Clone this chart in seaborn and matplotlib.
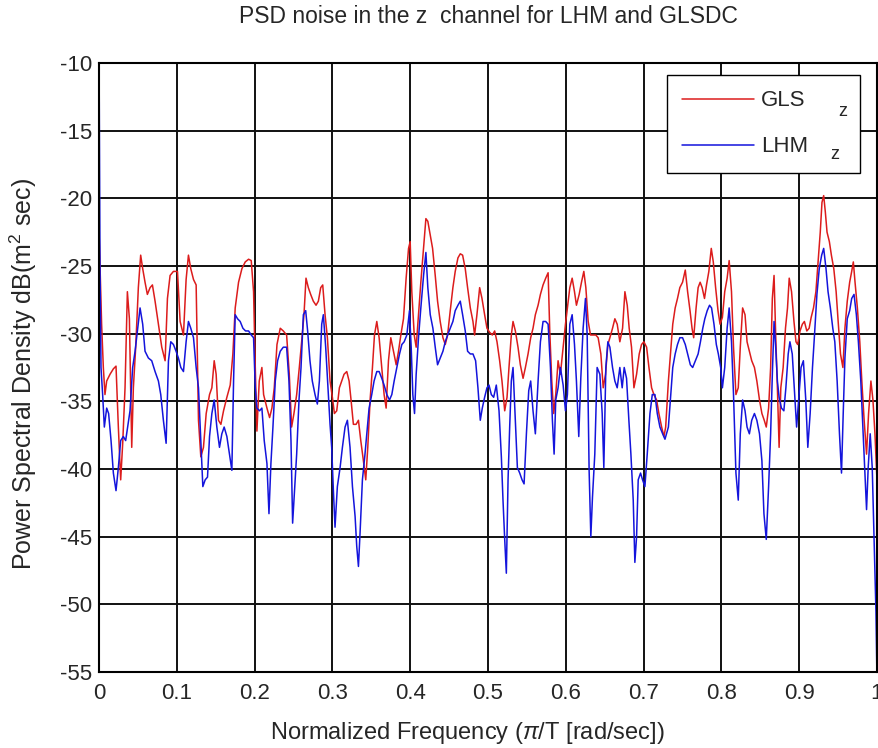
import matplotlib
matplotlib.use("Agg")
import matplotlib.pyplot as plt
import seaborn as sns
import numpy as np

# valores (frecuencia normalizada, dB)
gls_freq = [
    0.0000, 0.0034, 0.0056, 0.0077, 0.0099, 0.0142, 0.0185, 0.0219, 0.0249, 0.0279,
    0.0305, 0.0335, 0.0365, 0.0391, 0.0421, 0.0442, 0.0472, 0.0506, 0.0536, 0.0562,
    0.0592, 0.0622, 0.0657, 0.0687, 0.0721, 0.0764, 0.0807, 0.0850, 0.0880, 0.0914,
    0.0957, 0.1009, 0.1043, 0.1086, 0.1120, 0.1150, 0.1180, 0.1215, 0.1249, 0.1279,
    0.1309, 0.1343, 0.1378, 0.1421, 0.1451, 0.1481, 0.1506, 0.1536, 0.1567, 0.1601,
    0.1644, 0.1687, 0.1721, 0.1751, 0.1794, 0.1837, 0.1880, 0.1923, 0.1957, 0.1987,
    0.2009, 0.2030, 0.2060, 0.2094, 0.2116, 0.2159, 0.2193, 0.2223, 0.2253, 0.2288,
    0.2330, 0.2369, 0.2412, 0.2446, 0.2476, 0.2506, 0.2541, 0.2575, 0.2605, 0.2635,
    0.2661, 0.2691, 0.2721, 0.2755, 0.2790, 0.2820, 0.2850, 0.2876, 0.2906, 0.2936,
    0.2970, 0.3000, 0.3026, 0.3056, 0.3090, 0.3120, 0.3150, 0.3185, 0.3215, 0.3240,
    0.3270, 0.3305, 0.3335, 0.3365, 0.3399, 0.3429, 0.3455, 0.3485, 0.3515, 0.3541,
    0.3571, 0.3601, 0.3635, 0.3665, 0.3691, 0.3721, 0.3751, 0.3785, 0.3820, 0.3850,
    0.3880, 0.3914, 0.3948, 0.3979, 0.4000, 0.4021, 0.4052, 0.4077, 0.4107, 0.4137,
    0.4172, 0.4202, 0.4227, 0.4258, 0.4288, 0.4322, 0.4352, 0.4386, 0.4421, 0.4451,
    0.4481, 0.4515, 0.4549, 0.4579, 0.4614, 0.4644, 0.4674, 0.4708, 0.4738, 0.4773,
    0.4807, 0.4828, 0.4858, 0.4893, 0.4923, 0.4957, 0.4987, 0.5021, 0.5056, 0.5086,
    0.5116, 0.5150, 0.5180, 0.5215, 0.5245, 0.5270, 0.5300, 0.5322, 0.5352, 0.5386,
    0.5416, 0.5451, 0.5481, 0.5515, 0.5549, 0.5579, 0.5609, 0.5644, 0.5674, 0.5708,
    0.5742, 0.5773, 0.5794, 0.5820, 0.5845, 0.5871, 0.5901, 0.5931, 0.5966, 0.5996,
    0.6021, 0.6052, 0.6082, 0.6112, 0.6137, 0.6172, 0.6202, 0.6232, 0.6258, 0.6288,
    0.6318, 0.6352, 0.6386, 0.6416, 0.6451, 0.6481, 0.6511, 0.6541, 0.6567, 0.6601,
    0.6631, 0.6661, 0.6695, 0.6730, 0.6760, 0.6790, 0.6815, 0.6845, 0.6876, 0.6910,
    0.6944, 0.6974, 0.7004, 0.7039, 0.7069, 0.7103, 0.7133, 0.7167, 0.7197, 0.7232,
    0.7262, 0.7284, 0.7319, 0.7349, 0.7375, 0.7406, 0.7436, 0.7466, 0.7501, 0.7536,
    0.7566, 0.7597, 0.7623, 0.7644, 0.7675, 0.7701, 0.7727, 0.7753, 0.7783, 0.7809,
    0.7839, 0.7870, 0.7896, 0.7926, 0.7957, 0.7983, 0.8013, 0.8043, 0.8074, 0.8100,
    0.8130, 0.8156, 0.8187, 0.8217, 0.8243, 0.8273, 0.8304, 0.8330, 0.8360, 0.8390,
    0.8425, 0.8456, 0.8490, 0.8521, 0.8551, 0.8577, 0.8607, 0.8633, 0.8655, 0.8677,
    0.8698, 0.8720, 0.8742, 0.8764, 0.8794, 0.8824, 0.8850, 0.8872, 0.8902, 0.8933,
    0.8959, 0.8980, 0.9011, 0.9041, 0.9067, 0.9098, 0.9128, 0.9154, 0.9184, 0.9215,
    0.9241, 0.9271, 0.9293, 0.9315, 0.9336, 0.9358, 0.9388, 0.9414, 0.9445, 0.9475,
    0.9501, 0.9531, 0.9562, 0.9588, 0.9618, 0.9649, 0.9675, 0.9696, 0.9718, 0.9748,
    0.9779, 0.9805, 0.9835, 0.9866, 0.9892, 0.9922, 0.9948, 0.9974, 1.0000,
]
gls_db = [
    -22.2, -29.3, -32.5, -34.5, -33.5, -33.0, -32.6, -32.4, -36.9, -40.8,
    -38.1, -34.0, -26.9, -28.9, -38.4, -34.0, -31.0, -26.6, -24.2, -25.2,
    -26.2, -27.1, -26.6, -26.4, -27.6, -29.3, -31.0, -32.0, -27.4, -25.7,
    -25.4, -25.4, -29.1, -30.1, -26.0, -24.2, -25.2, -26.0, -26.4, -36.4,
    -39.1, -38.4, -35.9, -34.5, -34.0, -32.0, -33.0, -36.4, -36.7, -35.7,
    -34.7, -33.8, -31.5, -28.1, -26.2, -25.2, -24.7, -24.5, -24.6, -26.9,
    -32.5, -37.2, -33.5, -32.5, -34.5, -35.5, -36.2, -35.5, -34.0, -30.8,
    -29.6, -29.8, -30.1, -33.0, -36.9, -35.9, -34.5, -32.5, -30.6, -28.6,
    -25.9, -26.6, -27.1, -27.6, -27.9, -27.6, -26.6, -26.4, -28.6, -30.3,
    -33.5, -34.7, -35.9, -35.7, -34.0, -33.5, -33.0, -32.8, -33.5, -34.9,
    -36.7, -36.7, -36.4, -37.9, -39.4, -40.8, -38.4, -34.9, -32.5, -30.1,
    -29.1, -30.3, -32.5, -34.5, -35.5, -32.0, -30.3, -31.3, -32.3, -31.3,
    -30.1, -28.9, -25.9, -23.7, -23.2, -26.9, -30.1, -31.0, -28.6, -26.2,
    -23.7, -21.5, -21.7, -22.7, -23.7, -25.7, -27.6, -29.1, -30.3, -30.8,
    -30.1, -28.3, -26.6, -25.4, -24.4, -24.1, -24.2, -25.2, -26.6, -28.1,
    -29.1, -30.1, -28.6, -26.6, -27.4, -28.6, -29.6, -29.9, -30.1, -29.8,
    -30.6, -32.0, -33.5, -35.7, -34.7, -32.5, -30.1, -29.1, -29.8, -31.0,
    -32.3, -33.3, -32.5, -31.5, -30.3, -29.6, -28.6, -27.9, -27.1, -26.4,
    -25.9, -25.5, -29.8, -33.5, -35.9, -34.5, -32.0, -33.0, -31.0, -29.3,
    -28.1, -26.6, -25.9, -26.9, -27.9, -27.1, -26.2, -25.4, -26.6, -29.1,
    -30.1, -30.1, -30.1, -30.3, -31.5, -34.0, -33.0, -30.8, -30.3, -29.6,
    -28.9, -29.3, -30.6, -29.6, -26.9, -27.9, -29.6, -31.0, -34.0, -33.0,
    -31.5, -30.8, -30.6, -31.0, -32.5, -34.0, -34.5, -34.9, -35.9, -36.9,
    -37.6, -36.9, -33.5, -31.3, -29.3, -28.1, -27.4, -26.6, -26.2, -25.3,
    -26.9, -28.3, -29.6, -30.3, -28.1, -26.6, -26.2, -26.6, -27.4, -26.4,
    -25.4, -23.7, -24.7, -26.6, -28.3, -29.3, -28.8, -26.9, -25.9, -24.6,
    -26.9, -31.0, -34.5, -34.0, -31.0, -28.1, -28.6, -30.6, -31.3, -32.0,
    -32.5, -33.5, -34.9, -35.9, -36.4, -36.9, -35.5, -32.5, -27.4, -25.7,
    -30.1, -34.0, -38.4, -34.0, -32.5, -29.6, -28.1, -25.9, -26.9, -29.1,
    -30.6, -30.8, -29.8, -29.3, -29.1, -29.8, -29.6, -28.8, -28.1, -26.9,
    -24.9, -22.5, -20.3, -19.8, -21.0, -22.5, -23.2, -24.2, -25.2, -26.9,
    -29.1, -31.5, -32.5, -29.6, -27.6, -26.2, -25.4, -24.7, -26.2, -28.1,
    -30.6, -33.5, -36.4, -38.9, -35.9, -33.5, -34.9, -37.4, -40.8,
]

lhm_freq = [
    0.0000, 0.0013, 0.0026, 0.0047, 0.0069, 0.0099, 0.0124, 0.0155, 0.0185, 0.0219,
    0.0249, 0.0279, 0.0313, 0.0343, 0.0369, 0.0399, 0.0433, 0.0464, 0.0494, 0.0528,
    0.0562, 0.0592, 0.0635, 0.0678, 0.0721, 0.0764, 0.0794, 0.0828, 0.0863, 0.0893,
    0.0923, 0.0957, 0.0991, 0.1021, 0.1052, 0.1086, 0.1120, 0.1150, 0.1180, 0.1215,
    0.1249, 0.1279, 0.1309, 0.1335, 0.1365, 0.1395, 0.1421, 0.1451, 0.1481, 0.1515,
    0.1549, 0.1579, 0.1609, 0.1644, 0.1678, 0.1708, 0.1730, 0.1751, 0.1781, 0.1815,
    0.1850, 0.1884, 0.1923, 0.1957, 0.1987, 0.2009, 0.2030, 0.2064, 0.2094, 0.2124,
    0.2159, 0.2185, 0.2210, 0.2236, 0.2266, 0.2296, 0.2330, 0.2369, 0.2412, 0.2442,
    0.2468, 0.2489, 0.2511, 0.2541, 0.2571, 0.2597, 0.2627, 0.2657, 0.2682, 0.2712,
    0.2742, 0.2777, 0.2807, 0.2833, 0.2863, 0.2884, 0.2914, 0.2944, 0.2970, 0.2991,
    0.3013, 0.3034, 0.3064, 0.3099, 0.3129, 0.3163, 0.3193, 0.3227, 0.3258, 0.3292,
    0.3313, 0.3335, 0.3356, 0.3386, 0.3416, 0.3442, 0.3472, 0.3506, 0.3536, 0.3571,
    0.3601, 0.3635, 0.3665, 0.3700, 0.3734, 0.3764, 0.3794, 0.3828, 0.3863, 0.3893,
    0.3923, 0.3957, 0.3991, 0.4013, 0.4034, 0.4056, 0.4077, 0.4107, 0.4137, 0.4172,
    0.4202, 0.4227, 0.4258, 0.4292, 0.4322, 0.4352, 0.4386, 0.4421, 0.4451, 0.4481,
    0.4515, 0.4549, 0.4579, 0.4614, 0.4644, 0.4674, 0.4708, 0.4738, 0.4773, 0.4807,
    0.4841, 0.4871, 0.4901, 0.4927, 0.4957, 0.4987, 0.5013, 0.5043, 0.5073, 0.5107,
    0.5142, 0.5172, 0.5193, 0.5215, 0.5236, 0.5258, 0.5279, 0.5300, 0.5322, 0.5352,
    0.5378, 0.5408, 0.5438, 0.5464, 0.5494, 0.5524, 0.5549, 0.5579, 0.5609, 0.5644,
    0.5674, 0.5708, 0.5742, 0.5773, 0.5803, 0.5828, 0.5850, 0.5871, 0.5901, 0.5931,
    0.5966, 0.5996, 0.6021, 0.6052, 0.6082, 0.6112, 0.6137, 0.6167, 0.6193, 0.6223,
    0.6253, 0.6275, 0.6300, 0.6322, 0.6343, 0.6373, 0.6403, 0.6438, 0.6468, 0.6489,
    0.6515, 0.6541, 0.6567, 0.6601, 0.6631, 0.6661, 0.6695, 0.6725, 0.6751, 0.6781,
    0.6811, 0.6837, 0.6867, 0.6888, 0.6910, 0.6931, 0.6961, 0.6987, 0.7017, 0.7047,
    0.7082, 0.7112, 0.7146, 0.7176, 0.7210, 0.7245, 0.7275, 0.7319, 0.7349, 0.7375,
    0.7406, 0.7436, 0.7466, 0.7501, 0.7536, 0.7566, 0.7601, 0.7631, 0.7666, 0.7701,
    0.7731, 0.7761, 0.7787, 0.7818, 0.7848, 0.7874, 0.7905, 0.7935, 0.7961, 0.7991,
    0.8013, 0.8043, 0.8074, 0.8100, 0.8130, 0.8156, 0.8187, 0.8217, 0.8243, 0.8273,
    0.8304, 0.8330, 0.8360, 0.8390, 0.8425, 0.8456, 0.8490, 0.8521, 0.8547, 0.8577,
    0.8607, 0.8633, 0.8655, 0.8677, 0.8698, 0.8720, 0.8742, 0.8772, 0.8803, 0.8829,
    0.8859, 0.8881, 0.8911, 0.8937, 0.8967, 0.8998, 0.9024, 0.9054, 0.9085, 0.9111,
    0.9141, 0.9171, 0.9197, 0.9228, 0.9258, 0.9289, 0.9315, 0.9345, 0.9371, 0.9401,
    0.9432, 0.9458, 0.9488, 0.9518, 0.9544, 0.9566, 0.9588, 0.9618, 0.9649, 0.9675,
    0.9705, 0.9735, 0.9761, 0.9792, 0.9822, 0.9848, 0.9866, 0.9887, 0.9913, 0.9939,
    0.9965, 0.9987, 1.0000,
]
lhm_db = [
    -8.0, -24.9, -32.5, -34.5, -36.9, -35.5, -35.9, -37.9, -40.3, -41.6,
    -39.9, -37.9, -37.6, -37.9, -36.9, -35.7, -32.5, -31.3, -29.8, -28.1,
    -29.3, -31.3, -31.8, -32.0, -32.8, -33.5, -34.5, -36.4, -38.1, -32.0,
    -30.6, -30.8, -31.3, -31.8, -32.5, -32.8, -30.6, -29.1, -29.6, -30.3,
    -32.5, -34.0, -37.9, -41.3, -40.8, -40.6, -37.6, -35.9, -34.9, -36.9,
    -38.4, -37.4, -36.9, -37.6, -38.9, -40.1, -33.5, -28.6, -28.9, -29.1,
    -29.6, -29.8, -29.8, -30.1, -30.3, -34.0, -35.5, -35.7, -35.5, -37.9,
    -39.6, -43.3, -39.6, -36.9, -33.5, -32.0, -31.3, -31.0, -31.0, -33.5,
    -37.9, -44.0, -41.8, -38.9, -34.9, -32.5, -28.6, -28.3, -29.8, -32.0,
    -33.5, -34.5, -35.2, -33.5, -29.3, -28.6, -31.0, -34.0, -36.7, -38.4,
    -41.6, -44.3, -41.3, -39.9, -38.4, -36.9, -36.4, -38.4, -41.3, -43.5,
    -45.7, -47.2, -44.7, -40.8, -39.1, -37.4, -35.5, -34.5, -33.5, -32.8,
    -32.8, -33.3, -33.8, -34.5, -34.9, -34.5, -33.5, -32.5, -31.5, -30.8,
    -30.6, -30.1, -28.3, -31.0, -34.5, -35.9, -33.0, -30.3, -28.1, -25.7,
    -24.0, -26.6, -28.6, -29.6, -31.0, -32.3, -31.8, -31.3, -30.6, -30.1,
    -29.6, -29.1, -28.3, -27.9, -27.6, -28.6, -29.8, -31.3, -31.5, -31.5,
    -32.0, -34.0, -36.4, -35.5, -34.7, -34.0, -33.8, -34.5, -34.7, -33.8,
    -35.7, -39.1, -42.3, -45.2, -47.7, -40.8, -36.9, -33.5, -32.5, -36.4,
    -39.9, -40.3, -40.8, -41.1, -37.4, -34.2, -33.5, -35.7, -37.4, -33.5,
    -30.6, -29.1, -29.1, -29.3, -32.5, -36.4, -38.9, -34.9, -34.0, -32.5,
    -33.8, -35.7, -34.5, -29.3, -28.6, -30.8, -33.5, -37.6, -33.3, -29.6,
    -27.4, -30.1, -40.1, -45.0, -42.1, -38.9, -32.5, -33.0, -35.9, -39.9,
    -32.5, -30.6, -31.0, -32.5, -33.5, -34.0, -32.5, -34.0, -32.5, -33.3,
    -36.4, -38.9, -42.3, -46.9, -45.0, -40.8, -40.3, -40.8, -41.3, -38.9,
    -35.9, -34.5, -34.5, -35.9, -36.9, -37.4, -37.8, -36.9, -34.5, -32.5,
    -31.5, -30.8, -30.3, -30.3, -30.8, -31.5, -32.3, -32.5, -32.0, -31.5,
    -30.6, -29.6, -28.9, -28.3, -27.9, -28.1, -29.3, -30.8, -31.5, -32.5,
    -34.0, -32.5, -29.6, -28.1, -30.6, -34.5, -40.3, -42.3, -37.4, -34.9,
    -35.7, -36.9, -37.4, -36.4, -35.9, -36.4, -37.4, -39.4, -43.3, -45.2,
    -41.3, -37.4, -33.0, -29.1, -31.0, -33.5, -34.7, -35.5, -35.7, -34.0,
    -31.5, -30.6, -31.5, -34.0, -36.9, -34.5, -32.5, -32.0, -34.9, -38.4,
    -35.9, -32.5, -30.1, -27.1, -25.2, -24.2, -23.7, -25.2, -26.9, -28.1,
    -29.6, -30.6, -33.5, -37.4, -40.3, -35.9, -31.8, -28.9, -28.3, -27.4,
    -27.1, -28.6, -30.6, -33.5, -37.4, -40.8, -43.0, -39.9, -37.4, -39.9,
    -45.7, -50.6, -55.5,
]

xticks = np.round(np.arange(0, 1.01, 0.1), 1)
xtick_labels = ["0", "0.1", "0.2", "0.3", "0.4", "0.5", "0.6", "0.7", "0.8", "0.9", "1"]
yticks = np.arange(-55, -9, 5)

sns.set_style("white")
plt.rcParams["font.family"] = ["Liberation Sans", "DejaVu Sans"]
plt.rcParams["axes.unicode_minus"] = False
plt.rcParams["mathtext.fontset"] = "custom"
plt.rcParams["mathtext.rm"] = "Liberation Sans"
plt.rcParams["mathtext.it"] = "Liberation Sans:italic"

fig = plt.figure(figsize=(8.79, 7.48), dpi=100)
ax = fig.add_axes([0.1126, 0.1016, 0.8851, 0.8142])

sns.lineplot(x=gls_freq, y=gls_db, color="#dc1c1c", linewidth=1.1,
             label="GLS", ax=ax, estimator=None, sort=False)
sns.lineplot(x=lhm_freq, y=lhm_db, color="#1414dc", linewidth=1.1,
             label="LHM", ax=ax, estimator=None, sort=False)

ax.set_xlim(0, 1)
ax.set_ylim(-55, -10)
ax.set_xticks(xticks)
ax.set_xticklabels(xtick_labels)
ax.set_yticks(yticks)
ax.tick_params(labelsize=16, length=0)
ax.tick_params(axis="x", pad=8)
ax.tick_params(axis="y", pad=5)
ax.grid(True, color="#111111", linewidth=1.4, linestyle="-")
ax.set_axisbelow(True)
for s in ax.spines.values():
    s.set_color("black")
    s.set_linewidth(1.5)

ax.set_title("PSD noise in the z  channel for LHM and GLSDC", fontsize=16.5, pad=28.5)
ax.set_xlabel(r"Normalized Frequency ($\pi$/T [rad/sec])", fontsize=17, va="center")
ax.xaxis.set_label_coords(0.473, -0.100)
ax.set_ylabel(r"Power Spectral Density dB(m$^2$ sec)", fontsize=18, va="center")
ax.yaxis.set_label_coords(-0.0977, 0.49)

# caja de leyenda ensanchada como en la figura original
leg = ax.legend(loc="upper left", bbox_to_anchor=(0.730, 0.70, 0.248, 0.28),
                mode="expand", borderaxespad=0,
                fontsize=16, frameon=True, fancybox=False, edgecolor="black",
                framealpha=1, handlelength=3.25, handletextpad=0.3,
                borderpad=0.69, labelspacing=1.12)
leg.get_frame().set_linewidth(1.0)

# subindices z del texto de la leyenda
ax.text(0.9563, 0.913, "z", transform=ax.transAxes, fontsize=13,
        ha="center", va="baseline", zorder=10)
ax.text(0.946, 0.8424, "z", transform=ax.transAxes, fontsize=13,
        ha="center", va="baseline", zorder=10)

fig.savefig("out.png", dpi=100)
